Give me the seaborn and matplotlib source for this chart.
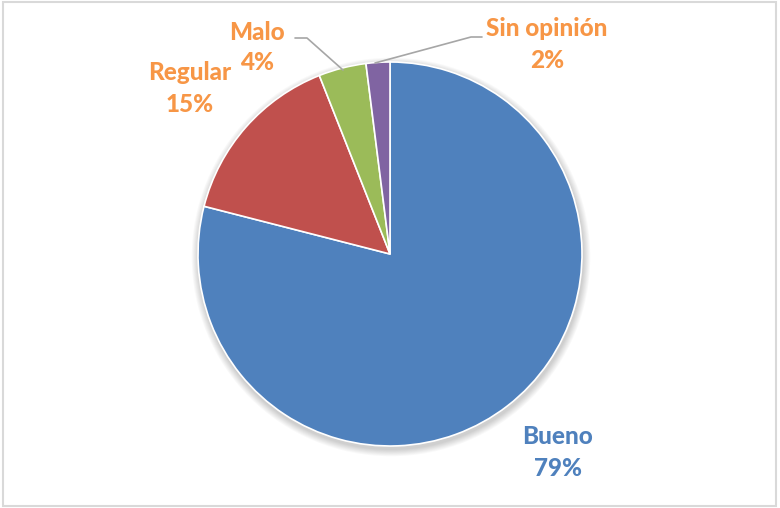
import matplotlib
matplotlib.use("Agg")
import matplotlib.pyplot as plt
import seaborn as sns
from matplotlib.patches import Circle, Rectangle

categories = ["Bueno", "Regular", "Malo", "Sin opinión"]
values = [79, 15, 4, 2]
colors = ["#4F81BD", "#C0504D", "#9BBB59", "#8064A2"]
label_colors = ["#4F81BD", "#F79646", "#F79646", "#F79646"]

sns.set_theme(style="white")
plt.rcParams["font.family"] = ["Lato", "DejaVu Sans"]

W, H = 780, 508
fig = plt.figure(figsize=(W / 100, H / 100), dpi=100)
ax = fig.add_axes([0, 0, 1, 1])
ax.set_xlim(0, W)
ax.set_ylim(0, H)
ax.set_aspect("equal")
ax.axis("off")

cx, cy, r = 390, H - 254, 192

# soft shadow beneath the pie
for i in range(8):
    ax.add_patch(Circle((cx + 1, cy - 3), r + 1 + i * 0.9, color="black",
                        alpha=0.025, lw=0, zorder=1))
ax.add_patch(Circle((cx, cy), r, color="white", lw=0, zorder=1.5))

ax.pie(values, colors=sns.color_palette(colors), startangle=90, counterclock=False,
       center=(cx, cy), radius=r, frame=True,
       wedgeprops=dict(edgecolor="white", linewidth=1.2, zorder=2))
ax.set_xlim(0, W)
ax.set_ylim(0, H)
ax.axis("off")

# labels: (x, y of name, y of percent) in pixel rows from top
label_pos = {
    "Bueno": (558, 437, 468),
    "Regular": (190, 73, 104),
    "Malo": (257, 32, 63),
    "Sin opinión": (547, 28, 60),
}
for cat, val, lc in zip(categories, values, label_colors):
    x, y1, y2 = label_pos[cat]
    ax.text(x, H - y1, cat, color=lc, fontsize=17.5, fontweight="black",
            ha="center", va="center", zorder=5)
    ax.text(x, H - y2, f"{val}%", color=lc, fontsize=17.5, fontweight="black",
            ha="center", va="center", zorder=5)

# leader lines for the small slices
lc_grey = "#A6A6A6"
ax.plot([295, 307, 343], [H - 38, H - 38, H - 70], color=lc_grey, lw=1.2, zorder=4)
ax.plot([482, 471, 375], [H - 37, H - 37, H - 63], color=lc_grey, lw=1.2, zorder=4)

# chart frame
ax.add_patch(Rectangle((3, 2), W - 7, H - 4, fill=False, edgecolor="#D9D9D9",
                       lw=1.5, zorder=6))

fig.savefig("out.png", dpi=100, facecolor="white")
